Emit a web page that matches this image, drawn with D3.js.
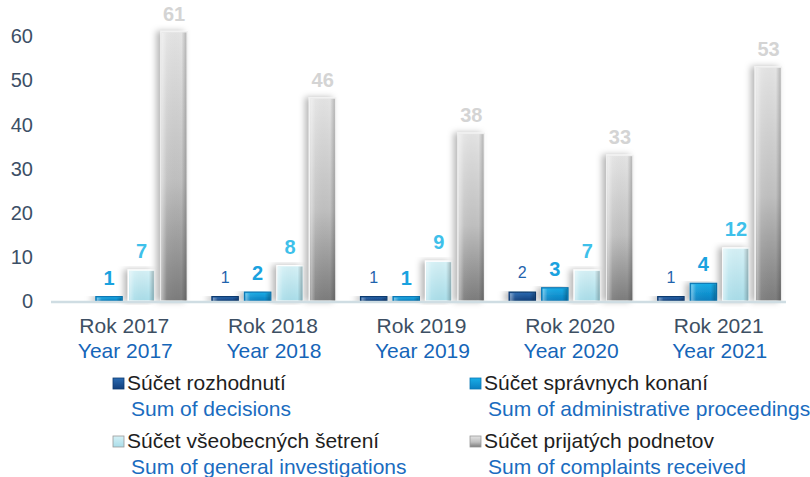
<!DOCTYPE html>
<html>
<head>
<meta charset="utf-8">
<script src="https://cdn.jsdelivr.net/npm/d3@7"></script>
<style>
  body { margin: 0; background: #fff; }
  svg { display: block; font-family: "Liberation Sans", Arial, sans-serif; }
</style>
</head>
<body>
<svg id="chart" width="810" height="477"></svg>
<script>
// data
var years = ['2017', '2018', '2019', '2020', '2021'];
var rokLabels = ['Rok 2017', 'Rok 2018', 'Rok 2019', 'Rok 2020', 'Rok 2021'];
var yearLabels = ['Year 2017', 'Year 2018', 'Year 2019', 'Year 2020', 'Year 2021'];

var decisions = [0, 1, 1, 2, 1];
var adminProceedings = [1, 2, 1, 3, 4];
var generalInvestigations = [7, 8, 9, 7, 12];
var complaints = [61, 46, 38, 33, 53];

var seriesKeys = ['dec', 'adm', 'gen', 'cmp'];
var seriesSk = ['Súčet rozhodnutí', 'Súčet správnych konaní', 'Súčet všeobecných šetrení', 'Súčet prijatých podnetov'];
var seriesEn = ['Sum of decisions', 'Sum of administrative proceedings', 'Sum of general investigations', 'Sum of complaints received'];
var yTicks = [0, 10, 20, 30, 40, 50, 60];

var seriesValues = [decisions, adminProceedings, generalInvestigations, complaints];

// look of each series
var grads = {
    dec: [['0%', '#2a6bb3'], ['100%', '#123f7c']],
    adm: [['0%', '#19aee8'], ['100%', '#0b7fc0']],
    gen: [['0%', '#d6f1f6'], ['100%', '#a9dde9']],
    cmp: [['0%', '#e4e4e4'], ['55%', '#c0c0c0'], ['100%', '#7c7c7c']]
};
var strokeCol = { dec: '#0e3a70', adm: '#0a78b5', gen: '#ffffff', cmp: '#f2f2f2' };
var labelStyle = {
    dec: { color: '#1f63ad', weight: 'normal', size: 16, off: 14 },
    adm: { color: '#1aa2df', weight: 'bold', size: 20, off: 12 },
    gen: { color: '#3ec0ea', weight: 'bold', size: 20, off: 12 },
    cmp: { color: '#d4d4d4', weight: 'bold', size: 20, off: 11 }
};

var svg = d3.select('#chart');
var defs = svg.append('defs');

seriesKeys.forEach(function (k) {
    var g = defs.append('linearGradient')
        .attr('id', 'grad-' + k)
        .attr('x1', 0).attr('y1', 0).attr('x2', 0).attr('y2', 1);
    grads[k].forEach(function (s) {
        g.append('stop').attr('offset', s[0]).attr('stop-color', s[1]);
    });
});

// side sheen over the bars
var sheen = defs.append('linearGradient').attr('id', 'sheen')
    .attr('x1', 0).attr('y1', 0).attr('x2', 1).attr('y2', 0);
sheen.append('stop').attr('offset', '0%').attr('stop-color', '#fff').attr('stop-opacity', 0.45);
sheen.append('stop').attr('offset', '20%').attr('stop-color', '#fff').attr('stop-opacity', 0.05);
sheen.append('stop').attr('offset', '80%').attr('stop-color', '#000').attr('stop-opacity', 0.0);
sheen.append('stop').attr('offset', '100%').attr('stop-color', '#000').attr('stop-opacity', 0.2);

var shadow = defs.append('filter').attr('id', 'shadow')
    .attr('x', '-50%').attr('y', '-10%').attr('width', '200%').attr('height', '120%');
shadow.append('feDropShadow')
    .attr('dx', -4).attr('dy', 0).attr('stdDeviation', 3)
    .attr('flood-color', '#000').attr('flood-opacity', 0.28);

var xScale = d3.scaleBand().domain(years).range([51, 794]).padding(0);
var inner = d3.scaleBand().domain(seriesKeys).range([0, 124]).paddingInner(0.19);
var yScale = d3.scaleLinear().domain([0, 60]).range([301, 36]);

// y tick labels
svg.append('g').selectAll('text')
    .data(yTicks)
    .enter().append('text')
    .attr('x', 33)
    .attr('y', function (d) { return yScale(d); })
    .attr('dy', '0.36em')
    .attr('text-anchor', 'end')
    .attr('font-size', 20)
    .attr('fill', '#3c4f66')
    .text(function (d) { return d; });

// build flat bar list
var bars = [];
years.forEach(function (yr, i) {
    seriesKeys.forEach(function (k, j) {
        bars.push({ year: yr, key: k, value: seriesValues[j][i] });
    });
});

function barX(d) {
    return xScale(d.year) + xScale.bandwidth() / 2 - 62 + inner(d.key);
}

var barG = svg.append('g');
var drawn = bars.filter(function (d) { return d.value > 0; });

barG.selectAll('rect.bar')
    .data(drawn)
    .enter().append('rect')
    .attr('class', 'bar')
    .attr('x', barX)
    .attr('y', function (d) { return yScale(d.value); })
    .attr('width', inner.bandwidth())
    .attr('height', function (d) { return yScale(0) - yScale(d.value); })
    .attr('fill', function (d) { return 'url(#grad-' + d.key + ')'; })
    .attr('stroke', function (d) { return strokeCol[d.key]; })
    .attr('stroke-width', 1.2)
    .attr('filter', 'url(#shadow)');

barG.selectAll('rect.sheen')
    .data(drawn)
    .enter().append('rect')
    .attr('class', 'sheen')
    .attr('x', function (d) { return barX(d) + 1; })
    .attr('y', function (d) { return yScale(d.value) + 1; })
    .attr('width', inner.bandwidth() - 2)
    .attr('height', function (d) { return Math.max(0, yScale(0) - yScale(d.value) - 1); })
    .attr('fill', 'url(#sheen)');

// baseline
svg.append('line')
    .attr('x1', 51).attr('x2', 786)
    .attr('y1', yScale(0) + 1).attr('y2', yScale(0) + 1)
    .attr('stroke', '#cfdde3').attr('stroke-width', 2.5);

// value labels
barG.selectAll('text.val')
    .data(drawn)
    .enter().append('text')
    .attr('class', 'val')
    .attr('x', function (d) { return barX(d) + inner.bandwidth() / 2; })
    .attr('y', function (d) { return yScale(d.value) - labelStyle[d.key].off; })
    .attr('text-anchor', 'middle')
    .attr('font-size', function (d) { return labelStyle[d.key].size; })
    .attr('font-weight', function (d) { return labelStyle[d.key].weight; })
    .attr('fill', function (d) { return labelStyle[d.key].color; })
    .text(function (d) { return d.value; });

// category labels (two lines)
var catG = svg.append('g');
catG.selectAll('text.rok')
    .data(years)
    .enter().append('text')
    .attr('x', function (d) { return xScale(d) + xScale.bandwidth() / 2 - 1; })
    .attr('y', 333)
    .attr('text-anchor', 'middle')
    .attr('font-size', 21)
    .attr('fill', '#3d4f63')
    .text(function (d, i) { return rokLabels[i]; });
catG.selectAll('text.yr')
    .data(years)
    .enter().append('text')
    .attr('x', function (d) { return xScale(d) + xScale.bandwidth() / 2; })
    .attr('y', 358)
    .attr('text-anchor', 'middle')
    .attr('font-size', 21)
    .attr('fill', '#1565b8')
    .text(function (d, i) { return yearLabels[i]; });

// legend
var legX = [113, 470];
var legY = [390, 448];
var leg = svg.append('g').selectAll('g')
    .data(seriesKeys)
    .enter().append('g')
    .attr('transform', function (d, i) {
        return 'translate(' + legX[i % 2] + ',' + legY[Math.floor(i / 2)] + ')';
    });
leg.append('rect')
    .attr('x', 0).attr('y', -12)
    .attr('width', 11).attr('height', 11)
    .attr('fill', function (d) { return 'url(#grad-' + d + ')'; })
    .attr('stroke', function (d) { return d === 'gen' || d === 'cmp' ? '#9a9a9a' : strokeCol[d]; })
    .attr('stroke-width', 0.8);
leg.append('text')
    .attr('x', 14).attr('y', 0)
    .attr('font-size', 21)
    .attr('fill', '#1e1e1e')
    .text(function (d, i) { return seriesSk[i]; });
leg.append('text')
    .attr('x', 18).attr('y', 26)
    .attr('font-size', 21)
    .attr('fill', '#1a6cc0')
    .text(function (d, i) { return seriesEn[i]; });
</script>
</body>
</html>
